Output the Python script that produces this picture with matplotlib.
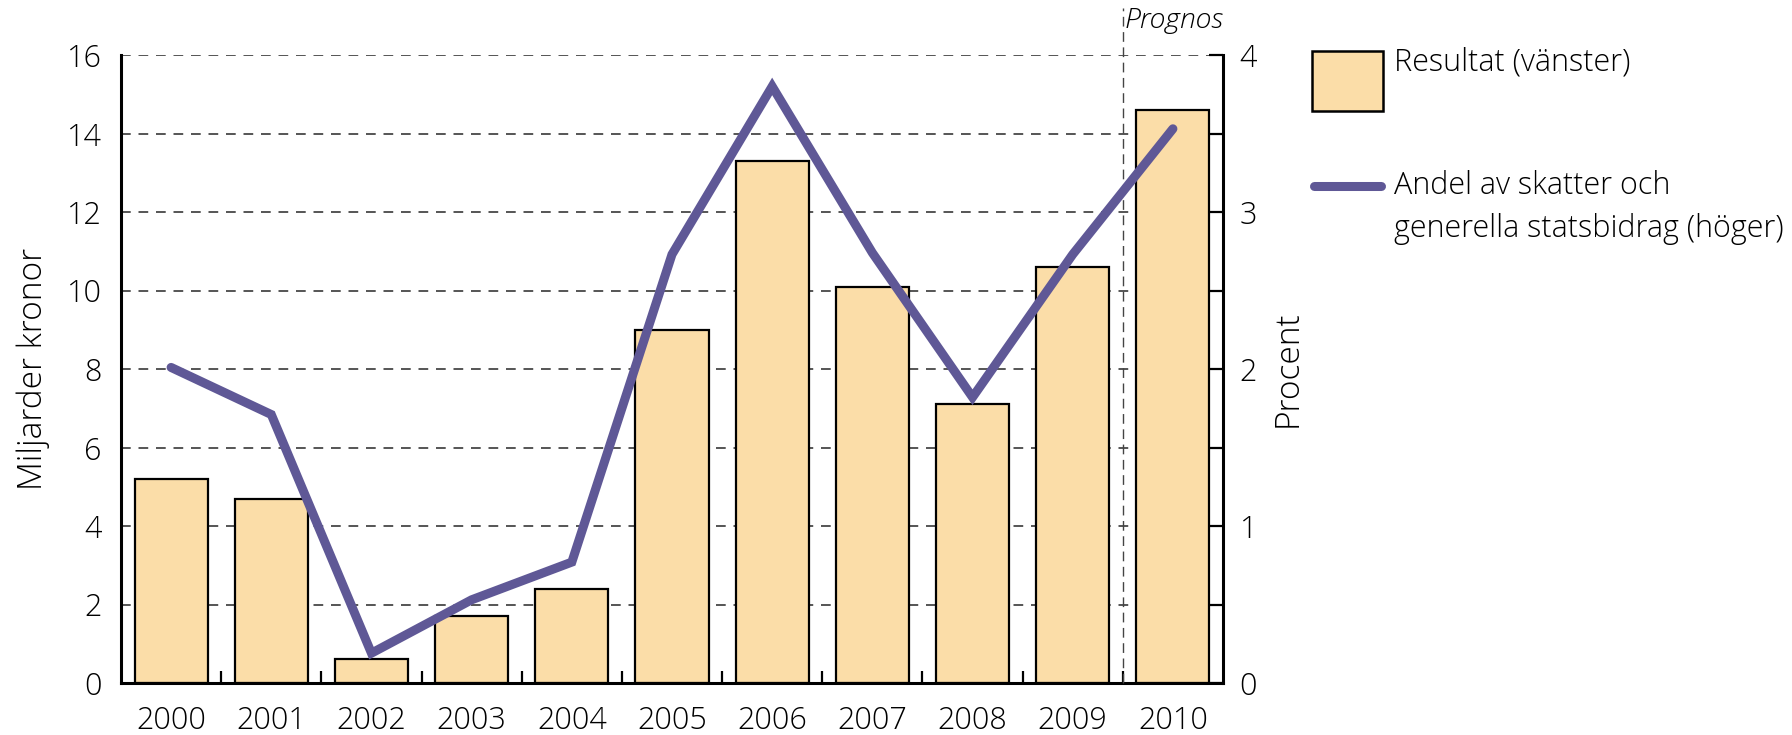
import matplotlib
matplotlib.use("Agg")
import matplotlib.pyplot as plt
from matplotlib.patches import Rectangle
from matplotlib.lines import Line2D
import numpy as np

years = ["2000", "2001", "2002", "2003", "2004", "2005", "2006", "2007", "2008", "2009", "2010"]
resultat = [5.2, 4.7, 0.6, 1.7, 2.4, 9.0, 13.3, 10.1, 7.1, 10.6, 14.6]
andel = [2.01, 1.71, 0.19, 0.53, 0.77, 2.73, 3.80, 2.74, 1.82, 2.73, 3.53]
left_ticks = [0, 2, 4, 6, 8, 10, 12, 14, 16]
right_ticks = [0, 1, 2, 3, 4]

BAR = "#FBDDA8"
LINE = "#5F5896"
FONT = "Open Sans"
FS = 22

plt.rcParams["font.family"] = [FONT, "DejaVu Sans"]
plt.rcParams["font.weight"] = "light"

W, H = 1792, 735
fig = plt.figure(figsize=(W / 100, H / 100), dpi=100)
L, R, T, B = 121, 1223, 55, 683
ax = fig.add_axes([L / W, 1 - B / H, (R - L) / W, (B - T) / H])
ax2 = ax.twinx()

x = np.arange(len(years))
ax.set_axisbelow(True)
ax.bar(x, resultat, width=0.73, color=BAR, edgecolor="black", linewidth=1.6, zorder=2)
ax.set_xlim(-0.5, 10.5)
ax.set_ylim(0, 16)
ax.set_yticks(left_ticks)
ax.set_yticklabels([str(v) for v in left_ticks], fontsize=FS, fontweight="light")
ax.yaxis.grid(True, linestyle=(0, (5, 4)), color="#555555", linewidth=1.4)
ax.set_xticks(x)
ax.set_xticklabels(years, fontsize=FS, fontweight="light")
ax.set_xticks(x[:-1] + 0.5, minor=True)
ax.tick_params(axis="x", which="major", length=0, pad=16)
ax.tick_params(axis="x", which="minor", direction="in", length=9, width=1.6)
ax.tick_params(axis="y", length=0, pad=14)
for s in ["top", "right"]:
    ax.spines[s].set_visible(False)
for s in ["left", "bottom"]:
    ax.spines[s].set_linewidth(2.2)
ax.set_ylabel("Miljarder kronor", fontsize=24, fontweight="light", labelpad=12)

ax.axvline(9.5, ymin=0, ymax=1.075, clip_on=False, color="#444444",
           linestyle=(0, (7, 4)), linewidth=1.0, zorder=3)
ax.text(10.5, 1.055, "Prognos", transform=ax.get_xaxis_transform(), ha="right",
        va="center", fontsize=20.5, style="italic", fontweight="light")

ax2.plot(x, andel, color=LINE, linewidth=6.5, solid_capstyle="round",
         solid_joinstyle="miter", zorder=5)
ax2.set_ylim(0, 4)
ax2.set_yticks(right_ticks)
ax2.set_yticklabels([str(v) for v in right_ticks], fontsize=FS, fontweight="light")
ax2.set_yticks(np.arange(0, 4.01, 0.5), minor=True)
ax2.tick_params(axis="y", which="both", direction="in", length=10, width=1.6, pad=12)
for s in ["top", "left", "bottom"]:
    ax2.spines[s].set_visible(False)
ax2.spines["right"].set_linewidth(2.2)
ax2.set_ylabel("Procent", fontsize=24, fontweight="light", labelpad=10)

# legend
tf = fig.transFigure
fig.add_artist(Rectangle((1312 / W, 1 - 111 / H), 71 / W, 60 / H, transform=tf,
                         facecolor=BAR, edgecolor="black", linewidth=1.8))
fig.text(1394 / W, 1 - 63 / H, "Resultat (vänster)", fontsize=FS, fontweight="light",
         va="center", ha="left")
fig.add_artist(Line2D([1314 / W, 1381 / W], [1 - 186 / H, 1 - 186 / H], transform=tf,
                      color=LINE, linewidth=6.5, solid_capstyle="round"))
fig.text(1394 / W, 1 - 186 / H, "Andel av skatter och", fontsize=FS, fontweight="light",
         va="center", ha="left")
fig.text(1394 / W, 1 - 229 / H, "generella statsbidrag (höger)", fontsize=FS,
         fontweight="light", va="center", ha="left")

fig.savefig("out.png", dpi=100)
